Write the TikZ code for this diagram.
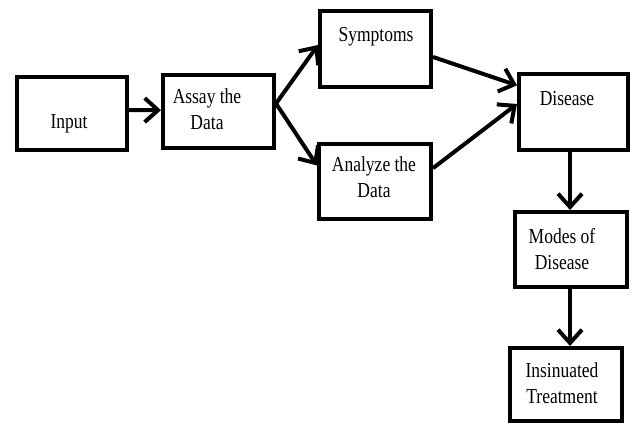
\documentclass[tikz,border=0pt]{standalone}
\usepackage{fontspec}
\setmainfont{Liberation Serif}[FakeStretch=0.82]
\usetikzlibrary{arrows.meta}
\begin{document}
\begin{tikzpicture}[x=0.75pt,y=-0.75pt,
  box/.style={draw, line width=3pt, inner sep=0pt},
  txt/.style={font=\fontsize{16}{19}\selectfont, align=center, anchor=base, inner sep=0pt},
  flow/.style={line width=3pt, -{Straight Barb[length=10pt,width=18pt]}}]
\useasboundingbox (0,0) rectangle (632,425);

% boxes
\node[box, minimum width=82.5pt, minimum height=54.75pt] (in)    at (72,113.5)  {};
\node[box, minimum width=83.25pt, minimum height=54.75pt] (assay) at (218.5,111.5) {};
\node[box, minimum width=83.25pt, minimum height=57pt]   (symp)  at (375.5,49)   {};
\node[box, minimum width=84pt, minimum height=56.25pt]   (anal)  at (375,181.5)  {};
\node[box, minimum width=81.75pt, minimum height=57pt]   (dis)   at (573.5,112)  {};
\node[box, minimum width=84pt, minimum height=56.25pt]   (modes) at (571,249.5)  {};
\node[box, minimum width=84pt, minimum height=54.75pt]   (treat) at (566,384.5)  {};

% labels (base anchor sits on the last line)
\node[txt] (tin)    at (69,128)  {Input};
\node[txt] (tassay) at (207,129) {Assay the\\Data};
\node[txt] (tsymp)  at (376,41)  {Symptoms};
\node[txt] (tanal)  at (374,197) {Analyze the\\Data};
\node[txt] (tdis)   at (567,105) {Disease};
\node[txt] (tmodes) at (562,269) {Modes of\\Disease};
\node[txt] (ttreat) at (562,403) {Insinuated\\Treatment};

% connectors
\draw[flow] ([yshift=2.6pt]in.east) -- ([yshift=1pt]assay.west);
\draw[flow] ([yshift=6pt]assay.east) -- ([yshift=3pt]symp.west);
\draw[flow] ([yshift=6pt]assay.east) -- ([yshift=12pt]anal.west);
\draw[flow] ([yshift=-6pt]symp.east) -- ([yshift=20pt]dis.west);
\draw[flow] ([yshift=10pt]anal.east) -- ([yshift=6pt]dis.west);
\draw[flow] ([xshift=-2.6pt]dis.south) -- ([xshift=-2.6pt]dis.south |- modes.north);
\draw[flow] ([xshift=-0.75pt]modes.south) -- ([xshift=-0.75pt]modes.south |- treat.north);
\end{tikzpicture}
\end{document}
